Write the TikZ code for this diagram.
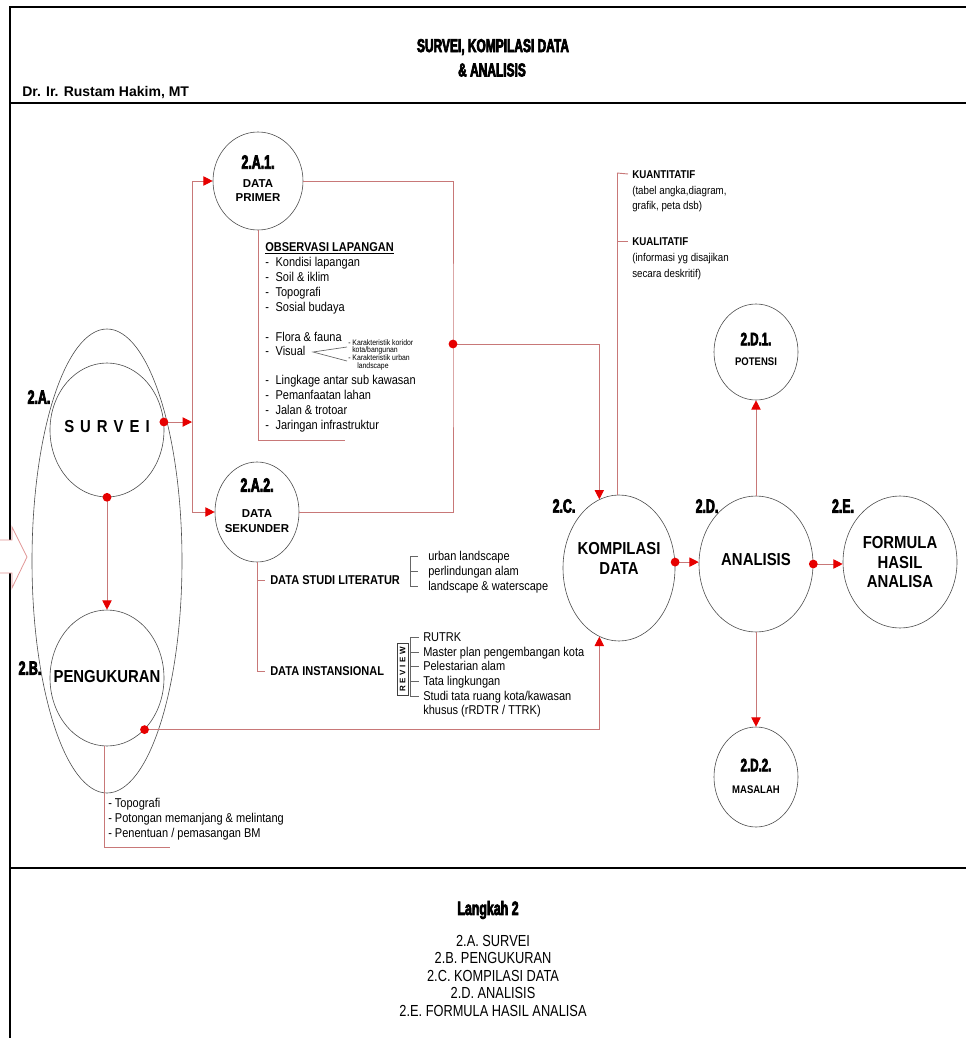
\documentclass[tikz,border=0pt]{standalone}
\usepackage{fontspec}
\setmainfont{Liberation Sans}
\newfontfamily\nar[FakeStretch=0.86]{Liberation Sans}
\newfontfamily\narr[FakeStretch=0.8]{Liberation Sans}
\newfontfamily\imp[FakeStretch=0.64,FakeBold=3.5]{Liberation Sans}
\usetikzlibrary{shapes.geometric,arrows.meta,calc}
\definecolor{lnred}{RGB}{200,120,120}
\definecolor{arrred}{RGB}{230,0,0}
\definecolor{pinkln}{RGB}{225,150,150}
\newcommand{\myitem}{-\hspace{5pt}}
\begin{document}
\begin{tikzpicture}[x=0.75pt,y=-0.75pt,
  bub/.style={ellipse, draw=black!70, line width=0.45pt, inner sep=0pt},
  conn/.style={draw=lnred, line width=0.7pt},
  brk/.style={draw=black!60, line width=0.5pt},
  arr/.style={-{Triangle[length=7pt,width=7pt,color=arrred]}},
  imptxt/.style={inner sep=0pt, font=\imp\bfseries\fontsize{14.5}{16}\selectfont},
  lbl/.style={inner sep=0pt, font=\nar\bfseries\fontsize{13}{15}\selectfont},
  sml/.style={inner sep=0pt, font=\bfseries\fontsize{8.6}{10}\selectfont},
  body/.style={inner sep=0pt, anchor=west, text height=6.9pt, text depth=0pt, font=\nar\fontsize{9.6}{11}\selectfont},
  bodyb/.style={body, font=\nar\bfseries\fontsize{9.6}{11}\selectfont},
  kb/.style={inner sep=0pt, anchor=west, text height=6.1pt, text depth=0pt, font=\nar\fontsize{8.5}{10}\selectfont},
  tiny/.style={inner sep=0pt, anchor=west, text height=4.3pt, text depth=0pt, font=\nar\fontsize{6}{7}\selectfont},
  bot/.style={inner sep=0pt, text height=8.6pt, text depth=0pt, font=\narr\fontsize{12}{14}\selectfont}
]
\useasboundingbox (0,0) rectangle (966,1038);

% frame
\draw[line width=2pt] (10,1038) -- (10,7) -- (966,7);
\draw[line width=2pt] (10,103) -- (966,103);
\draw[line width=2pt] (10,868) -- (966,868);
\draw[pinkln, fill=white, line width=0.6pt] (0,540) -- (12,540) -- (12,527) -- (27,557) -- (12,588) -- (12,573) -- (0,573);

% header
\node[imptxt, font=\imp\bfseries\fontsize{14}{15}\selectfont] (t1) at (493,47) {SURVEI, KOMPILASI DATA};
\node[imptxt, font=\imp\bfseries\fontsize{14}{15}\selectfont] (t2) at (492,70) {\& ANALISIS};
\node[inner sep=0pt, anchor=west, font=\bfseries\fontsize{10.5}{12}\selectfont] (auth) at (22,93) {Dr. Ir. Rustam Hakim, MT};

% bubbles
\node[bub, minimum width=112.5pt, minimum height=348pt] (big) at (107,561) {};
\node[bub, minimum width=85.5pt, minimum height=100.5pt] (survei) at (107,430) {};
\node[bub, minimum width=85.5pt, minimum height=102pt] (pengu) at (107,678) {};
\node[bub, minimum width=67.5pt, minimum height=73.5pt] (primer) at (258,181) {};
\node[bub, minimum width=63pt, minimum height=75pt] (sek) at (257,512) {};
\node[bub, minimum width=84pt, minimum height=109.5pt] (komp) at (619,568) {};
\node[bub, minimum width=85.5pt, minimum height=102pt] (anal) at (756,564) {};
\node[bub, minimum width=85.5pt, minimum height=99pt] (form) at (900,562) {};
\node[bub, minimum width=63pt, minimum height=72pt] (pot) at (756,352) {};
\node[bub, minimum width=63pt, minimum height=75pt] (mas) at (756,777) {};

% bubble texts
\node[imptxt] (la) at (39,397) {2.A.};
\node[imptxt] (lb) at (30,668) {2.B.};
\node[imptxt] (lc) at (564,506) {2.C.};
\node[imptxt] (ld) at (707,506) {2.D.};
\node[imptxt] (le) at (843,506) {2.E.};
\node[lbl] (tsurvei) at (107,427) {S\kern4.5pt U\kern4.5pt R\kern4.5pt V\kern4.5pt E\kern4.5pt I};
\node[lbl] (tpengu) at (107,677) {PENGUKURAN};
\node[imptxt] (ta1) at (258,162) {2.A.1.};
\node[sml] (ta1b) at (258,184) {DATA};
\node[sml] (ta1c) at (258,198) {PRIMER};
\node[imptxt] (ta2) at (257,485) {2.A.2.};
\node[sml] (ta2b) at (257,514) {DATA};
\node[sml] (ta2c) at (257,529) {SEKUNDER};
\node[lbl] (tk1) at (619,549) {KOMPILASI};
\node[lbl] (tk2) at (619,569) {DATA};
\node[lbl] (tan) at (756,560) {ANALISIS};
\node[lbl] (tf1) at (900,543) {FORMULA};
\node[lbl] (tf2) at (900,563) {HASIL};
\node[lbl] (tf3) at (900,582) {ANALISA};
\node[imptxt, font=\imp\bfseries\fontsize{13.5}{15}\selectfont] (tp1) at (756,339) {2.D.1.};
\node[inner sep=0pt, font=\nar\bfseries\fontsize{8.3}{10}\selectfont] (tp2) at (756,362) {POTENSI};
\node[imptxt, font=\imp\bfseries\fontsize{13.5}{15}\selectfont] (tm1) at (756,765) {2.D.2.};
\node[inner sep=0pt, font=\nar\bfseries\fontsize{8.3}{10}\selectfont] (tm2) at (756,790) {MASALAH};

% observasi lapangan
\node[bodyb] (obs) at (265,247) {\underline{OBSERVASI LAPANGAN}};
\node[body] (o1) at (265,262) {\myitem Kondisi lapangan};
\node[body] (o2) at (265,277) {\myitem Soil \& iklim};
\node[body] (o3) at (265,292) {\myitem Topografi};
\node[body] (o4) at (265,307) {\myitem Sosial budaya};
\node[body] (o5) at (265,337) {\myitem Flora \& fauna};
\node[body] (vis) at (265,351) {\myitem Visual};
\node[body] (o7) at (265,380) {\myitem Lingkage antar sub kawasan};
\node[body] (o8) at (265,395) {\myitem Pemanfaatan lahan};
\node[body] (o9) at (265,410) {\myitem Jalan \& trotoar};
\node[body] (o10) at (265,425) {\myitem Jaringan infrastruktur};
\node[tiny] (k1) at (348,343) {- Karakteristik koridor};
\node[tiny] (k2) at (352,350) {kota/bangunan};
\node[tiny] (k3) at (348,358) {- Karakteristik urban};
\node[tiny] (k4) at (357,366) {landscape};
\coordinate (v0) at (313,352);
\coordinate (v1) at (347,347);
\coordinate (v2) at (347,361);
\draw[brk] (v1) -- (v0) -- (v2);

% kuantitatif
\node[kb, font=\nar\bfseries\fontsize{8.5}{10}\selectfont] (kq) at (632,174) {KUANTITATIF};
\node[kb] (kq2) at (632,190) {(tabel angka,diagram,};
\node[kb] (kq3) at (632,205) {grafik, peta dsb)};
\node[kb, font=\nar\bfseries\fontsize{8.5}{10}\selectfont] (kl) at (632,241) {KUALITATIF};
\node[kb] (kl2) at (632,257) {(informasi yg disajikan};
\node[kb] (kl3) at (632,273) {secara deskritif)};
\coordinate (kbar) at (617,173);
\draw[conn] (kbar) -- (kbar |- komp.north);
\draw[conn] (kbar) -- ([xshift=-3pt]kq.west);
\draw[conn] (kbar |- kl.west) -- ([xshift=-3pt]kl.west);

% data sekunder texts
\node[bodyb] (lit) at (270,580) {DATA STUDI LITERATUR};
\node[bodyb] (inst) at (270,671) {DATA INSTANSIONAL};
\node[body] (u1) at (428,556) {urban landscape};
\node[body] (u2) at (428,571) {perlindungan alam};
\node[body] (u3) at (428,586) {landscape \& waterscape};
\draw[brk] ([xshift=-7.5pt]u1.west) -- ([xshift=-13.5pt]u1.west) -- ([xshift=-13.5pt]u3.west) -- ([xshift=-7.5pt]u3.west);
\draw[brk] ([xshift=-13.5pt]u2.west) -- ([xshift=-7.5pt]u2.west);
\node[draw=black!75, line width=0.5pt, rotate=90, minimum width=39pt, minimum height=8.5pt, inner sep=0pt, font=\bfseries\fontsize{6}{7}\selectfont] (rev) at (402.5,669) {R\kern2pt E\kern2pt V\kern2pt I\kern2pt E\kern2pt W};
\node[body] (r1) at (423,637) {RUTRK};
\node[body] (r2) at (423,652) {Master plan pengembangan kota};
\node[body] (r3) at (423,666) {Pelestarian alam};
\node[body] (r4) at (423,681) {Tata lingkungan};
\node[body] (r5) at (423,696) {Studi tata ruang kota/kawasan};
\node[body] (r6) at (423,710) {khusus (rRDTR / TTRK)};
\draw[brk] ([xshift=-3pt]r1.west) -- ([xshift=-9.75pt]r1.west) -- ([xshift=-9.75pt]r5.west) -- ([xshift=-3pt]r5.west);
\foreach \r in {r2,r3,r4} \draw[brk] ([xshift=-9.75pt]\r.west) -- ([xshift=-3pt]\r.west);

% pengukuran texts
\node[body] (g1) at (108,803) {- Topografi};
\node[body] (g2) at (108,818) {- Potongan memanjang \& melintang};
\node[body] (g3) at (108,833) {- Penentuan / pemasangan BM};

% connectors
\coordinate (lbus) at (192,421);
\draw[conn] (primer.west -| lbus) -- (sek.west -| lbus);
\draw[conn,arr] (primer.west -| lbus) -- (primer.west);
\draw[conn,arr] (sek.west -| lbus) -- (sek.west);
\draw[conn,arr] (survei.8) -- (survei.8 -| lbus);

\coordinate (rbus) at (453,344);
\draw[conn] (primer.east) -| (rbus) |- (sek.east);
\draw[conn,arr] (rbus) -| (komp.106);
\draw[conn,arr] (pengu.-54) -| (komp.-106);
\draw[conn,arr] (survei.south) -- (pengu.north);
\draw[conn,arr] (komp.6) -- (komp.6 -| anal.west);
\draw[conn,arr] (anal.east) -- (anal.east -| form.west);
\draw[conn,arr] (anal.north) -- (pot.south);
\draw[conn,arr] (anal.south) -- (mas.north);

\coordinate (pb) at (258,440);
\coordinate (pe) at (345,440);
\draw[conn] (primer.south) -- (pb) -- (pe);
\coordinate (sb) at (257,671);
\draw[conn] (sek.south) -- (sb) -- ([xshift=-3.5pt]inst.west);
\draw[conn] (sek.south |- lit.west) -- ([xshift=-3.5pt]lit.west);
\coordinate (gb) at (104,847);
\coordinate (ge) at (170,847);
\draw[conn] (pengu.south -| gb) -- (gb) -- (ge);

% dots
\foreach \p in {survei.8, survei.south, rbus, pengu.-54, komp.6, anal.east}
  \fill[arrred] (\p) circle[radius=3.3pt];

% bottom section
\node[imptxt] (lang) at (488,910) {Langkah 2};
\node[bot] (b1) at (493,941) {2.A. SURVEI};
\node[bot] (b2) at (493,958) {2.B. PENGUKURAN};
\node[bot] (b3) at (493,976) {2.C. KOMPILASI DATA};
\node[bot] (b4) at (493,993) {2.D. ANALISIS};
\node[bot] (b5) at (493,1011) {2.E. FORMULA HASIL ANALISA};
\end{tikzpicture}
\end{document}
